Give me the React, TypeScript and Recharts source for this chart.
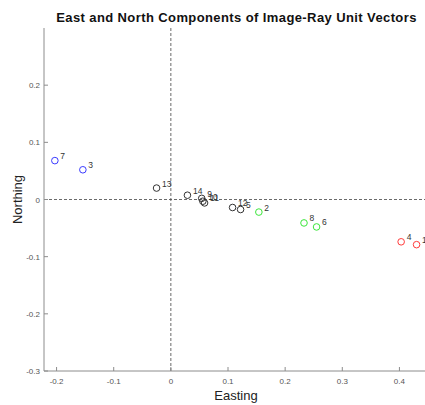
import {
  ScatterChart,
  Scatter,
  XAxis,
  YAxis,
  ReferenceLine,
} from "recharts";

// image-ray ids and their east / north unit-vector components
const rayIds = [1, 2, 3, 4, 5, 6, 7, 8, 9, 10, 11, 12, 13, 14];
const easting = [0.43, 0.154, -0.154, 0.403, 0.122, 0.255, -0.203, 0.233, 0.054, 0.056, 0.059, 0.108, -0.025, 0.029];
const northing = [-0.079, -0.022, 0.052, -0.074, -0.0175, -0.048, 0.068, -0.041, 0.002, -0.003, -0.006, -0.014, 0.02, 0.0075];
const groups = ["red", "green", "blue", "red", "black", "green", "blue", "green", "black", "black", "black", "black", "black", "black"];

const xTicks = [-0.2, -0.1, 0, 0.1, 0.2, 0.3, 0.4];
const yTicks = [-0.3, -0.2, -0.1, 0, 0.1, 0.2];

const GROUP_COLORS: Record<string, string> = {
  blue: "#3b3bff",
  green: "#3ae63a",
  red: "#ff3b3b",
  black: "#333333",
};

const points = rayIds.map((id, i) => ({
  id,
  x: easting[i],
  y: northing[i],
  group: groups[i],
}));

const FONT = "'Liberation Sans', Arial, sans-serif";
const AXIS_COLOR = "#8c8c8c";

const BottomTick = ({ x, y, payload }: any) => (
  <g>
    <line x1={x} y1={y} x2={x} y2={y - 4} stroke={AXIS_COLOR} />
    <text x={x} y={y + 13} textAnchor="middle" fontSize={8} fill="#555" fontFamily={FONT}>
      {payload.value}
    </text>
  </g>
);

const TopTick = ({ x, y }: any) => (
  <line x1={x} y1={y} x2={x} y2={y + 4} stroke={AXIS_COLOR} />
);

const LeftTick = ({ x, y, payload }: any) => (
  <g>
    <line x1={x} y1={y} x2={x + 4} y2={y} stroke={AXIS_COLOR} />
    <text x={x - 4} y={y + 3} textAnchor="end" fontSize={8} fill="#555" fontFamily={FONT}>
      {payload.value}
    </text>
  </g>
);

const NorthingLabel = ({ viewBox }: any) => {
  const cy = viewBox.y + viewBox.height / 2;
  return (
    <text
      x={21.5}
      y={cy}
      transform={`rotate(-90, 21.5, ${cy})`}
      textAnchor="middle"
      fontSize={13}
      fill="#222"
      fontFamily={FONT}
    >
      Northing
    </text>
  );
};

const makeMarker = (color: string) => (props: any) => {
  const { cx, cy, payload } = props;
  return (
    <g>
      <circle cx={cx} cy={cy} r={3.3} fill="none" stroke={color} strokeWidth={1} />
      <text x={cx + 5.5} y={cy - 1.5} fontSize={8.5} fill="#333" fontFamily={FONT}>
        {payload.id}
      </text>
    </g>
  );
};

export default function App() {
  return (
    <div
      style={{
        position: "absolute",
        left: 0,
        top: 0,
        width: 425,
        height: 405,
        overflow: "hidden",
        background: "#fff",
      }}
    >
      <div
        style={{
          position: "absolute",
          left: 44,
          top: 11,
          width: 385,
          textAlign: "center",
          fontFamily: FONT,
          fontWeight: "bold",
          fontSize: 13,
          letterSpacing: 0.4,
          lineHeight: "14px",
          color: "#111",
          whiteSpace: "nowrap",
        }}
      >
        East and North Components of Image-Ray Unit Vectors
      </div>
      <ScatterChart
        width={440}
        height={405}
        margin={{ top: 28, right: 12, bottom: 0, left: 0 }}
      >
        <XAxis
          xAxisId="bottom"
          type="number"
          dataKey="x"
          domain={[-0.222, 0.45]}
          ticks={xTicks}
          interval={0}
          allowDataOverflow
          height={34}
          tickSize={0}
          tickMargin={0}
          tickLine={false}
          tick={<BottomTick />}
          axisLine={{ stroke: AXIS_COLOR }}
          label={{
            value: "Easting",
            position: "insideBottom",
            offset: 5,
            fontSize: 13,
            fill: "#222",
            fontFamily: FONT,
          }}
        />
        <XAxis
          xAxisId="top"
          orientation="top"
          type="number"
          dataKey="x"
          domain={[-0.222, 0.45]}
          ticks={xTicks}
          interval={0}
          allowDataOverflow
          height={0}
          tickSize={0}
          tickMargin={0}
          tickLine={false}
          tick={<TopTick />}
          axisLine={{ stroke: AXIS_COLOR }}
        />
        <YAxis
          type="number"
          dataKey="y"
          domain={[-0.3, 0.3]}
          ticks={yTicks}
          interval={0}
          allowDataOverflow
          width={44}
          tickSize={0}
          tickMargin={0}
          tickLine={false}
          tick={<LeftTick />}
          axisLine={{ stroke: AXIS_COLOR }}
          label={{ content: <NorthingLabel /> }}
        />
        <ReferenceLine xAxisId="bottom" x={0} stroke="#444" strokeWidth={0.8} strokeDasharray="3 2" />
        <ReferenceLine xAxisId="bottom" y={0} stroke="#444" strokeWidth={0.8} strokeDasharray="3 2" />
        {Object.keys(GROUP_COLORS).map((g) => (
          <Scatter
            key={g}
            xAxisId="bottom"
            data={points.filter((p) => p.group === g)}
            shape={makeMarker(GROUP_COLORS[g])}
            isAnimationActive={false}
          />
        ))}
      </ScatterChart>
    </div>
  );
}
